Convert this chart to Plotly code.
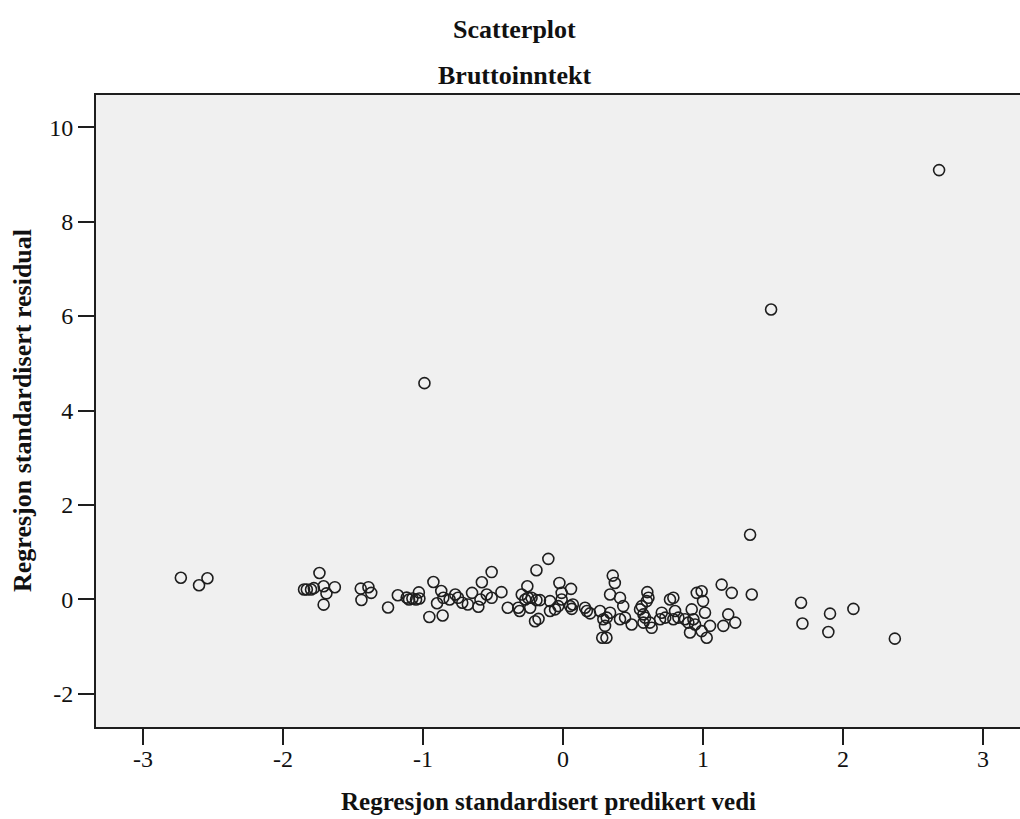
import plotly.graph_objects as go

# Predicted standardized values (x) and standardized residuals (y)
pred_x = [
    -2.73, -2.60, -2.54,
    -1.74, -1.85, -1.83, -1.80, -1.78, -1.71, -1.63, -1.69, -1.71,
    -1.445, -1.39, -1.37, -1.44,
    -1.25, -1.18,
    -1.117, -1.10, -1.076, -1.05, -1.03, -1.026,
    -0.926, -0.87, -0.855, -0.90, -0.955, -0.86, -0.81,
    -0.77, -0.75, -0.72,
    -0.65, -0.68, -0.605, -0.59, -0.58, -0.545, -0.51, -0.51, -0.44, -0.395,
    -0.32, -0.31,
    -0.295, -0.27, -0.25, -0.225, -0.19, -0.165, -0.255,
    -0.19, -0.105,
    -0.235, -0.20, -0.175,
    -0.093, -0.093, -0.057, -0.034,
    -0.026, -0.01, -0.01,
    0.057, 0.05, 0.07, 0.062,
    0.157, 0.193, 0.17,
    0.264, 0.288, 0.312, 0.336, 0.30, 0.28, 0.31,
    0.355, 0.37,
    0.336, 0.407, 0.43,
    0.407, 0.443, 0.49,
    0.55, 0.562, 0.574, 0.586, 0.598, 0.602, 0.61, 0.62, 0.633, 0.574,
    0.705, 0.73, 0.693,
    0.764, 0.788, 0.80, 0.788, 0.824,
    0.871, 0.895, 0.919, 0.931, 0.907, 0.943, 0.955, 0.99, 1.00, 1.014, 0.99, 1.026, 1.05,
    1.133, 1.205,
    1.18, 1.145, 1.23,
    1.348,
    1.70, 1.71, 1.907, 1.895, 2.074, 2.37,
    -0.99, 1.336, 1.486, 2.686,
]
resid_y = [
    0.46, 0.30, 0.45,
    0.56, 0.21, 0.21, 0.21, 0.24, 0.28, 0.26, 0.13, -0.11,
    0.23, 0.26, 0.14, -0.01,
    -0.17, 0.09,
    0.04, 0.00, 0.02, 0.00, 0.15, 0.02,
    0.37, 0.18, 0.035, -0.08, -0.37, -0.34, 0.00,
    0.105, 0.035, -0.07,
    0.14, -0.105, -0.155, 0.00, 0.365, 0.105, 0.58, 0.035, 0.155, -0.175,
    -0.175, -0.245,
    0.105, 0.00, 0.035, 0.035, -0.015, -0.015, 0.28,
    0.62, 0.86,
    -0.175, -0.46, -0.41,
    -0.035, -0.245, -0.21, -0.14,
    0.35, 0.14, 0.00,
    0.225, -0.14, -0.105, -0.20,
    -0.175, -0.295, -0.245,
    -0.245, -0.42, -0.385, -0.28, -0.56, -0.81, -0.81,
    0.505, 0.35,
    0.105, 0.035, -0.14,
    -0.42, -0.385, -0.53,
    -0.21, -0.14, -0.315, -0.385, -0.035, 0.155, 0.035, -0.49, -0.60, -0.49,
    -0.28, -0.385, -0.42,
    0.00, 0.035, -0.245, -0.42, -0.385,
    -0.42, -0.49, -0.21, -0.42, -0.70, -0.53, 0.14, 0.175, -0.035, -0.28, -0.67, -0.81, -0.56,
    0.315, 0.14,
    -0.315, -0.56, -0.49,
    0.105,
    -0.07, -0.51, -0.30, -0.69, -0.20, -0.83,
    4.58, 1.37, 6.14, 9.09,
]

x_ticks = [-3, -2, -1, 0, 1, 2, 3]
y_ticks = [-2, 0, 2, 4, 6, 8, 10]

title_main = "Scatterplot"
title_sub = "Bruttoinntekt"
x_title = "Regresjon standardisert predikert vedi"
y_title = "Regresjon standardisert residual"

FONT = "Liberation Serif"
INK = "#1e1e1e"

fig = go.Figure(
    go.Scatter(
        x=pred_x,
        y=resid_y,
        mode="markers",
        marker=dict(
            symbol="circle",
            size=11,
            color="rgba(0,0,0,0)",
            line=dict(color=INK, width=1.6),
        ),
        hoverinfo="x+y",
        showlegend=False,
    )
)

axis_common = dict(
    showgrid=False,
    zeroline=False,
    showline=True,
    linecolor=INK,
    linewidth=2,
    ticks="outside",
    ticklen=16,
    tickwidth=2,
    tickcolor=INK,
    tickfont=dict(family=FONT, size=24, color="#111"),
)

fig.update_layout(
    width=1020,
    height=819,
    margin=dict(l=96, r=0, t=95, b=92),
    paper_bgcolor="white",
    plot_bgcolor="#f0f0f0",
    font=dict(family=FONT, color="#111"),
    xaxis=dict(
        range=[-3.336, 3.264],
        tickvals=x_ticks,
        ticktext=[str(v) for v in x_ticks],
        mirror=True,
        ticklabelstandoff=-7,
        **axis_common,
    ),
    yaxis=dict(
        range=[-2.70, 10.68],
        tickvals=y_ticks,
        ticktext=[str(v) for v in y_ticks],
        **axis_common,
    ),
    annotations=[
        dict(text="<b>%s</b>" % title_main, xref="paper", yref="paper",
             x=(514 - 96) / 924, y=(727 - 30) / 632, xanchor="center", yanchor="middle",
             showarrow=False, font=dict(family=FONT, size=26, color="#111")),
        dict(text="<b>%s</b>" % title_sub, xref="paper", yref="paper",
             x=(514 - 96) / 924, y=(727 - 75) / 632, xanchor="center", yanchor="middle",
             showarrow=False, font=dict(family=FONT, size=26, color="#111")),
        dict(text="<b>%s</b>" % x_title, xref="paper", yref="paper",
             x=(548 - 96) / 924, y=(727 - 801) / 632, xanchor="center", yanchor="middle",
             showarrow=False, font=dict(family=FONT, size=25, color="#111")),
        dict(text="<b>%s</b>" % y_title, xref="paper", yref="paper",
             x=(22 - 96) / 924, y=0.5, xanchor="center", yanchor="middle",
             textangle=-90, showarrow=False, font=dict(family=FONT, size=26, color="#111")),
    ],
)

fig.write_html(
    "out.html",
    config={"displayModeBar": False},
    post_script="document.body.style.margin='0';document.body.style.overflow='hidden';",
)
